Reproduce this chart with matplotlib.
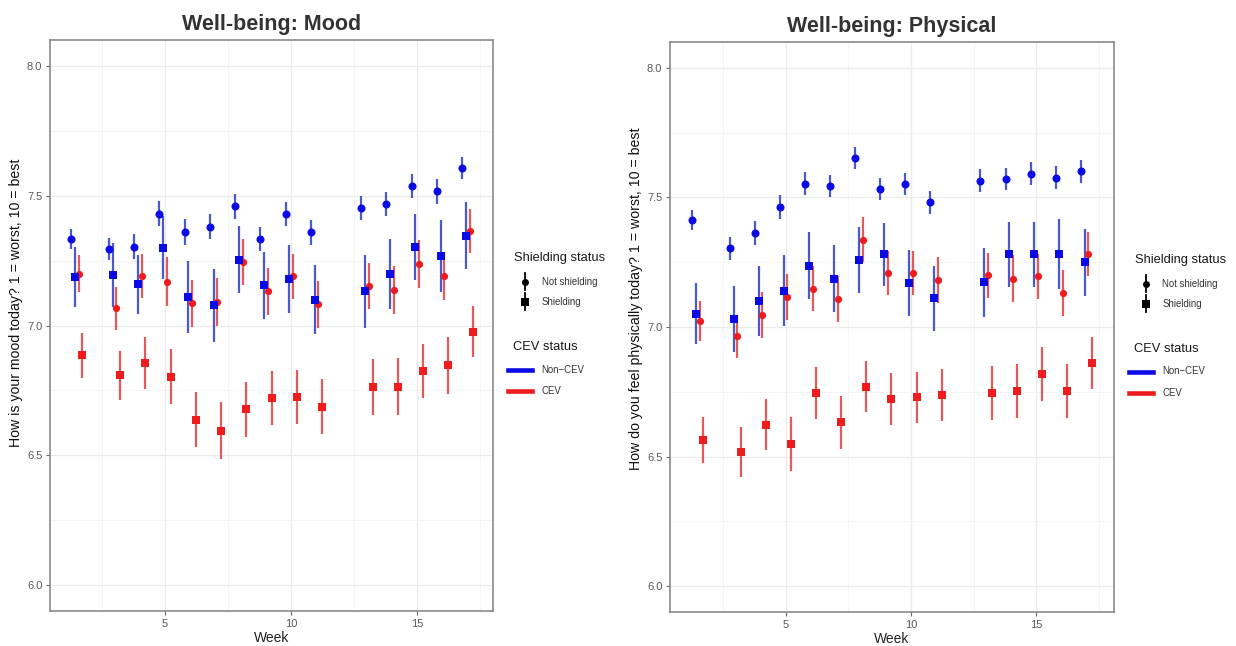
import matplotlib.pyplot as plt
from matplotlib.lines import Line2D
from matplotlib.ticker import MultipleLocator

plt.rcParams['font.family'] = ['Liberation Sans', 'DejaVu Sans']

weeks = [1.5, 3, 4, 5, 6, 7, 8, 9, 10, 11, 13, 14, 15, 16, 17]

# Mood panel: means and half-widths of the intervals
mood_noncev_notshield = [7.333, 7.295, 7.303, 7.43, 7.359, 7.381, 7.46, 7.333, 7.43, 7.359,
                         7.453, 7.469, 7.538, 7.517, 7.607]
mood_noncev_notshield_ci = [0.04, 0.042, 0.048, 0.048, 0.05, 0.048, 0.048, 0.046, 0.047, 0.047,
                            0.046, 0.047, 0.047, 0.048, 0.044]
mood_noncev_shield = [7.186, 7.195, 7.158, 7.30, 7.11, 7.078, 7.254, 7.155, 7.18, 7.10,
                      7.132, 7.199, 7.301, 7.267, 7.346]
mood_noncev_shield_ci = [0.115, 0.123, 0.114, 0.12, 0.14, 0.14, 0.13, 0.13, 0.13, 0.134,
                         0.14, 0.135, 0.127, 0.138, 0.13]
mood_cev_notshield = [7.20, 7.067, 7.19, 7.169, 7.085, 7.09, 7.246, 7.131, 7.19, 7.081,
                      7.151, 7.136, 7.237, 7.192, 7.365]
mood_cev_notshield_ci = [0.071, 0.083, 0.085, 0.094, 0.091, 0.092, 0.089, 0.089, 0.086, 0.091,
                         0.089, 0.093, 0.092, 0.092, 0.085]
mood_cev_shield = [6.885, 6.808, 6.856, 6.803, 6.636, 6.594, 6.677, 6.72, 6.724, 6.687,
                   6.764, 6.764, 6.824, 6.846, 6.976]
mood_cev_shield_ci = [0.088, 0.095, 0.099, 0.107, 0.106, 0.11, 0.107, 0.105, 0.105, 0.105,
                      0.107, 0.109, 0.105, 0.108, 0.099]

# Physical panel
phys_noncev_notshield = [7.414, 7.303, 7.364, 7.462, 7.553, 7.545, 7.652, 7.533, 7.552, 7.481,
                         7.565, 7.571, 7.592, 7.577, 7.601]
phys_noncev_notshield_ci = [0.039, 0.045, 0.046, 0.047, 0.044, 0.043, 0.043, 0.041, 0.042, 0.045,
                            0.044, 0.044, 0.044, 0.045, 0.044]
phys_noncev_shield = [7.051, 7.032, 7.10, 7.14, 7.237, 7.186, 7.258, 7.28, 7.169, 7.11,
                      7.173, 7.28, 7.28, 7.28, 7.25]
phys_noncev_shield_ci = [0.118, 0.128, 0.135, 0.138, 0.128, 0.129, 0.127, 0.123, 0.127, 0.125,
                         0.133, 0.127, 0.125, 0.135, 0.13]
phys_cev_notshield = [7.022, 6.965, 7.046, 7.115, 7.148, 7.107, 7.337, 7.207, 7.209, 7.183,
                      7.199, 7.187, 7.195, 7.132, 7.28]
phys_cev_notshield_ci = [0.077, 0.083, 0.09, 0.089, 0.088, 0.088, 0.087, 0.085, 0.085, 0.089,
                         0.087, 0.089, 0.088, 0.089, 0.085]
phys_cev_shield = [6.564, 6.517, 6.623, 6.549, 6.744, 6.632, 6.769, 6.722, 6.728, 6.737,
                   6.745, 6.754, 6.818, 6.754, 6.86]
phys_cev_shield_ci = [0.089, 0.097, 0.098, 0.105, 0.1, 0.102, 0.099, 0.1, 0.1, 0.101,
                      0.103, 0.104, 0.103, 0.104, 0.1]

shield_labels = ['Not shielding', 'Shielding']
cev_labels = ['Non\u2212CEV', 'CEV']

BLUE = '#0a0ae6'
BLUE_BAR = '#3a46c4'
RED = '#ee1c1c'
RED_BAR = '#e04848'

W, H = 1236, 646


def px(x, y):
    return x / W, 1 - y / H


def pointrange(ax, offset, means, ci, marker, color, bar_color, ms):
    x = [w + offset for w in weeks]
    ax.vlines(x, [m - c for m, c in zip(means, ci)], [m + c for m, c in zip(means, ci)],
              color=bar_color, lw=1.6, alpha=0.9, zorder=2)
    ax.plot(x, means, linestyle='none', marker=marker, color=color, ms=ms, mew=0, zorder=3)


def draw_panel(ax, title, ylabel, xlim, label_y, series):
    (cns, cns_ci), (cs, cs_ci), (ns, ns_ci), (s, s_ci) = series
    # red drawn first so the blue squares sit on top
    pointrange(ax, 0.075, cns, cns_ci, 'o', RED, RED_BAR, 5.2)
    pointrange(ax, 0.225, cs, cs_ci, 's', RED, RED_BAR, 5.8)
    pointrange(ax, -0.225, ns, ns_ci, 'o', BLUE, BLUE_BAR, 5.8)
    pointrange(ax, -0.075, s, s_ci, 's', BLUE, BLUE_BAR, 5.8)

    ax.set_xlim(*xlim)
    ax.set_ylim(5.9, 8.1)
    ax.xaxis.set_major_locator(MultipleLocator(5))
    ax.xaxis.set_minor_locator(MultipleLocator(2.5))
    ax.yaxis.set_major_locator(MultipleLocator(0.5))
    ax.yaxis.set_minor_locator(MultipleLocator(0.25))
    ax.yaxis.set_major_formatter(plt.FormatStrFormatter('%.1f'))
    ax.grid(which='major', color='#ebebeb', lw=0.9, zorder=0)
    ax.grid(which='minor', color='#f3f3f3', lw=0.6, zorder=0)
    ax.set_axisbelow(True)
    ax.tick_params(which='major', length=3, width=0.8, color='#666666', labelcolor='#5a5a5a',
                   labelsize=8, pad=2.5)
    ax.tick_params(which='minor', length=0)
    for sp in ax.spines.values():
        sp.set_color('#8a8a8a')
        sp.set_linewidth(1.2)
    ax.set_title(title, fontsize=15.5, fontweight='bold', color='#333333', pad=7)
    ax.set_xlabel('Week', fontsize=10, color='#222222', labelpad=2)
    ax.set_ylabel(ylabel, fontsize=10.2, color='#111111')
    ax.yaxis.set_label_coords(-0.06, label_y)


def add_legend(fig, dx, dy):
    # ggplot-like guide boxes drawn by hand, positions in pixels
    def txt(x, y, s, size, color):
        fig.text(*px(x + dx, y + dy), s, fontsize=size, color=color, va='center', ha='left')

    txt(514, 258, 'Shielding status', 9.3, '#1a1a1a')
    for i, (lab, mk, ms) in enumerate(zip(shield_labels, ['o', 's'], [5.0, 5.6])):
        y = 281.7 + 20 * i
        kx = 525 + dx
        fig.add_artist(Line2D([kx / W, kx / W], [1 - (y + dy - 8.5) / H, 1 - (y + dy + 8.5) / H],
                              color='black', lw=1.3, transform=fig.transFigure))
        fig.add_artist(Line2D([kx / W], [1 - (y + dy) / H], marker=mk, ms=ms, mew=0,
                              color='black', transform=fig.transFigure))
        txt(541.5, y, lab, 6.9, '#333333')

    txt(513, 346.7, 'CEV status', 9.3, '#1a1a1a')
    for i, (lab, col) in enumerate(zip(cev_labels, [BLUE, RED])):
        y = 369.5 + 21 * i
        fig.add_artist(Line2D([(508 + dx) / W, (532 + dx) / W], [1 - (y + dy) / H] * 2,
                              color=col, lw=3.3, transform=fig.transFigure))
        txt(541.5, y, lab, 6.9, '#333333')


fig = plt.figure(figsize=(12.36, 6.46), dpi=100)
ax1 = fig.add_axes([50 / W, 1 - 611 / H, 443 / W, 571 / H])
ax2 = fig.add_axes([670 / W, 1 - 612 / H, 444 / W, 570 / H])

draw_panel(ax1, 'Well-being: Mood', 'How is your mood today? 1 = worst, 10 = best', (0.44, 18.0),
           0.54,
           [(mood_cev_notshield, mood_cev_notshield_ci), (mood_cev_shield, mood_cev_shield_ci),
            (mood_noncev_notshield, mood_noncev_notshield_ci),
            (mood_noncev_shield, mood_noncev_shield_ci)])
draw_panel(ax2, 'Well-being: Physical', 'How do you feel physically today? 1 = worst, 10 = best',
           (0.39, 18.1), 0.55,
           [(phys_cev_notshield, phys_cev_notshield_ci), (phys_cev_shield, phys_cev_shield_ci),
            (phys_noncev_notshield, phys_noncev_notshield_ci),
            (phys_noncev_shield, phys_noncev_shield_ci)])

add_legend(fig, 0, 0)
add_legend(fig, 621, 2)

fig.savefig('out.png', dpi=100)
